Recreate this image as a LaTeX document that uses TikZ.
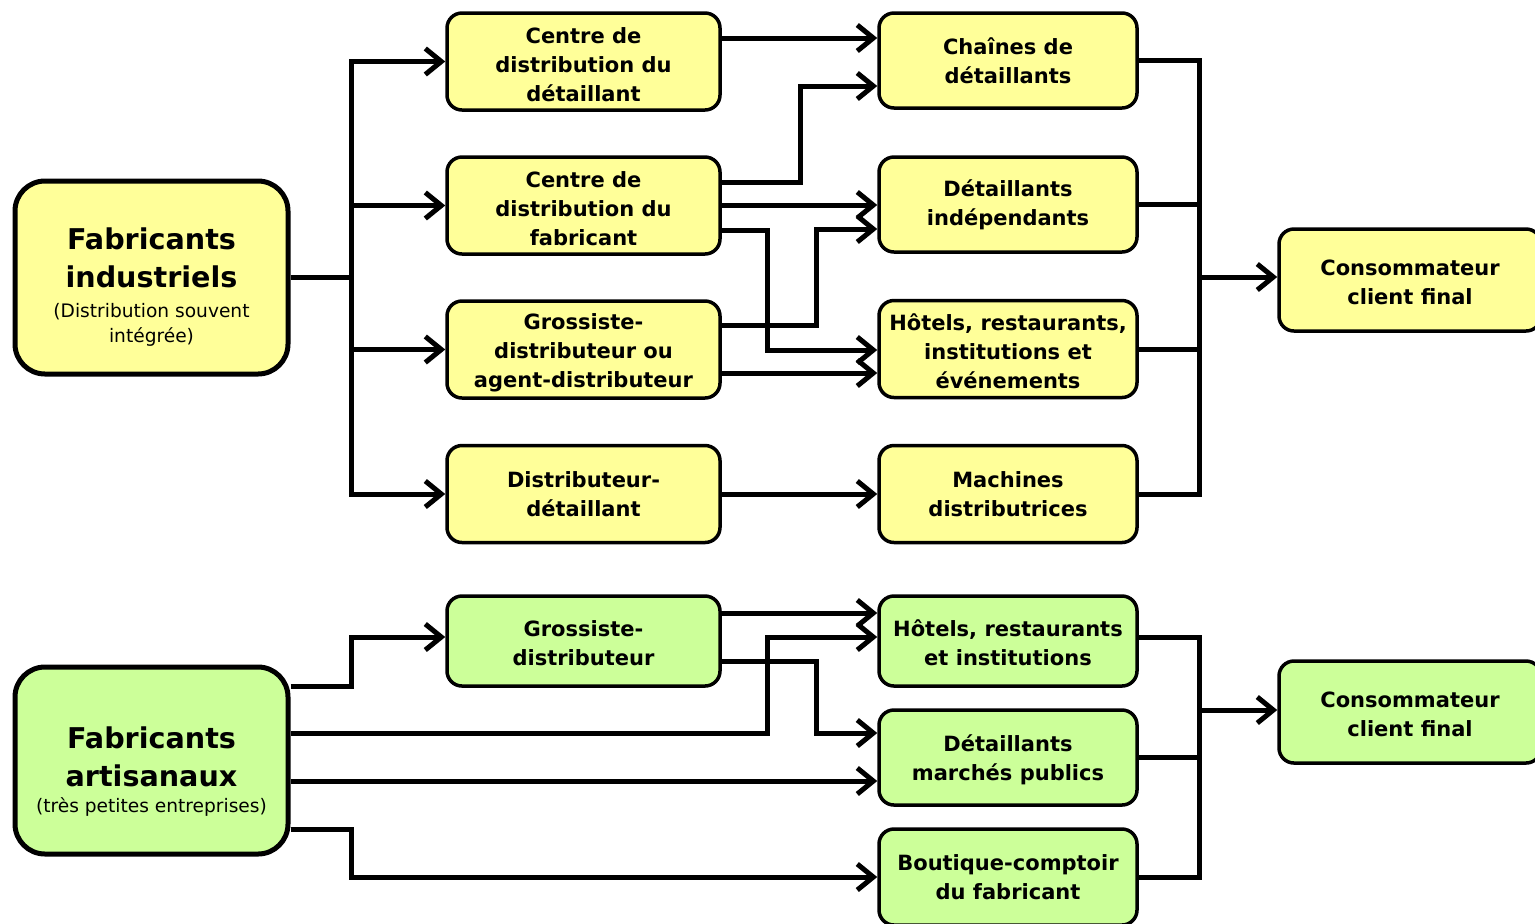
\documentclass[tikz,border=0pt]{standalone}
\usepackage{fontspec}
\setmainfont{DejaVu Sans}
\usepackage{xcolor}
\usetikzlibrary{arrows.meta}

\definecolor{induyellow}{HTML}{FFFF99}
\definecolor{artgreen}{HTML}{CCFF99}

% strut to push a text block down a little
\newcommand{\pushdown}[1]{\rule{0pt}{#1}}

\begin{document}
\begin{tikzpicture}[x=0.5pt, y=-0.5pt,
    sbox/.style={rectangle, rounded corners=7.5pt, draw=black, line width=1.75pt,
                 minimum width=136.5pt, minimum height=48.5pt, inner sep=1pt,
                 align=center, font=\fontsize{10.5}{14.5}\selectfont\bfseries},
    rbox/.style={sbox, minimum width=129pt},
    bigbox/.style={sbox, rounded corners=15pt, line width=2.5pt,
                   font=\fontsize{14.3}{19}\selectfont\bfseries},
    arr/.style={-{Straight Barb[length=8pt, width=13pt]}, line width=2.5pt},
    lnk/.style={line width=2.5pt},
]
  \useasboundingbox (0,0) rectangle (1535,923);

  % Fabricants industriels
  \node[bigbox, fill=induyellow, minimum height=96.5pt] (FI) at (151.5,277.5)
    {\pushdown{20pt}Fabricants\\industriels\\[-4pt]{\mdseries\fontsize{9.3}{13}\selectfont (Distribution souvent}\\[-6.5pt]{\mdseries\fontsize{9.3}{13}\selectfont intégrée)}};

  % Middle column
  \node[sbox, fill=induyellow] (CDD) at (583.5, 61.5) {\pushdown{11pt}Centre de\\distribution du\\détaillant};
  \node[sbox, fill=induyellow] (CDF) at (583.5,205.5) {\pushdown{11pt}Centre de\\distribution du\\fabricant};
  \node[sbox, fill=induyellow] (GDA) at (583.5,349.5) {\pushdown{11pt}Grossiste-\\distributeur ou\\agent-distributeur};
  \node[sbox, fill=induyellow] (DD)  at (583.5,494)   {Distributeur-\\détaillant};

  % Right column
  \node[rbox, fill=induyellow, minimum height=47.5pt] (CH)  at (1008, 60.5) {Chaînes de\\détaillants};
  \node[rbox, fill=induyellow, minimum height=47.5pt] (DI)  at (1008,204.5) {Détaillants\\indépendants};
  \node[rbox, fill=induyellow] (HRI) at (1008,349)   {\pushdown{11pt}Hôtels, restaurants,\\institutions et\\événements};
  \node[rbox, fill=induyellow] (MD)  at (1008,494)   {Machines\\distributrices};

  % Consumer
  \node[rbox, fill=induyellow, minimum width=131pt, minimum height=51pt] (C1) at (1410,280)
    {\pushdown{10pt}Consommateur\\client final};

  % Fabricants artisanaux
  \node[bigbox, fill=artgreen, minimum height=93.5pt] (FA) at (151.5,760.5)
    {\pushdown{22pt}Fabricants\\artisanaux\\[-6pt]{\mdseries\fontsize{9.3}{13}\selectfont (très petites entreprises)}};

  \node[sbox, fill=artgreen, minimum height=45pt] (GD) at (583.5,641) {\pushdown{10pt}Grossiste-\\distributeur};

  \node[rbox, fill=artgreen, minimum height=45pt] (HR2) at (1008,641) {\pushdown{10pt}Hôtels, restaurants\\et institutions};
  \node[rbox, fill=artgreen, minimum height=47.5pt] (DMP) at (1008,757.5) {\pushdown{10.5pt}Détaillants\\marchés publics};
  \node[rbox, fill=artgreen, minimum height=48pt] (BCF) at (1008,877) {Boutique-comptoir\\du fabricant};

  \node[rbox, fill=artgreen, minimum width=131pt, minimum height=51pt] (C2) at (1410,712)
    {\pushdown{10pt}Consommateur\\client final};

  % Top: fan-out from FI
  \coordinate (jL) at (351,277.5);
  \draw[lnk] (FI.east) -- (jL);
  \foreach \t in {CDD, CDF, GDA, DD}
    \draw[arr] (jL) |- (\t.west);

  % Middle to right column
  \draw[arr] (CDD.east |- 0,38) -- (CH.west |- 0,38);
  \draw[arr] (CDF.east |- 0,182) -| (800,86) -- (CH.west |- 0,86);
  \draw[arr] (CDF.east |- 0,205) -- (DI.west |- 0,205);
  \draw[arr] (CDF.east |- 0,230) -| (767,350) -- (HRI.west |- 0,350);
  \draw[arr] (GDA.east |- 0,325) -| (816,229) -- (DI.west |- 0,229);
  \draw[arr] (GDA.east |- 0,373) -- (HRI.west |- 0,373);
  \draw[arr] (DD.east) -- (MD.west);

  % Right column to consumer
  \coordinate (jR) at (1199,277);
  \foreach \t in {CH, DI, HRI, MD}
    \draw[lnk] (\t.east) -| (jR);
  \draw[arr] (jR) -- (C1.west |- jR);

  % Bottom: from FA
  \draw[arr] (FA.east |- 0,686) -| (351,637) -- (GD.west |- 0,637);
  \draw[arr] (GD.east |- 0,613) -- (HR2.west |- 0,613);
  \draw[arr] (FA.east |- 0,733) -| (767,637) -- (HR2.west |- 0,637);
  \draw[arr] (GD.east |- 0,661) -| (816,733) -- (DMP.west |- 0,733);
  \draw[arr] (FA.east |- 0,781) -- (DMP.west |- 0,781);
  \draw[arr] (FA.east |- 0,829) -| (351,877) -- (BCF.west |- 0,877);

  % Bottom right to consumer
  \coordinate (jR2) at (1199,710);
  \draw[lnk] (HR2.east |- 0,637) -| (jR2);
  \draw[lnk] (DMP.east) -| (jR2);
  \draw[lnk] (BCF.east) -| (jR2);
  \draw[arr] (jR2) -- (C2.west |- jR2);

\end{tikzpicture}
\end{document}
